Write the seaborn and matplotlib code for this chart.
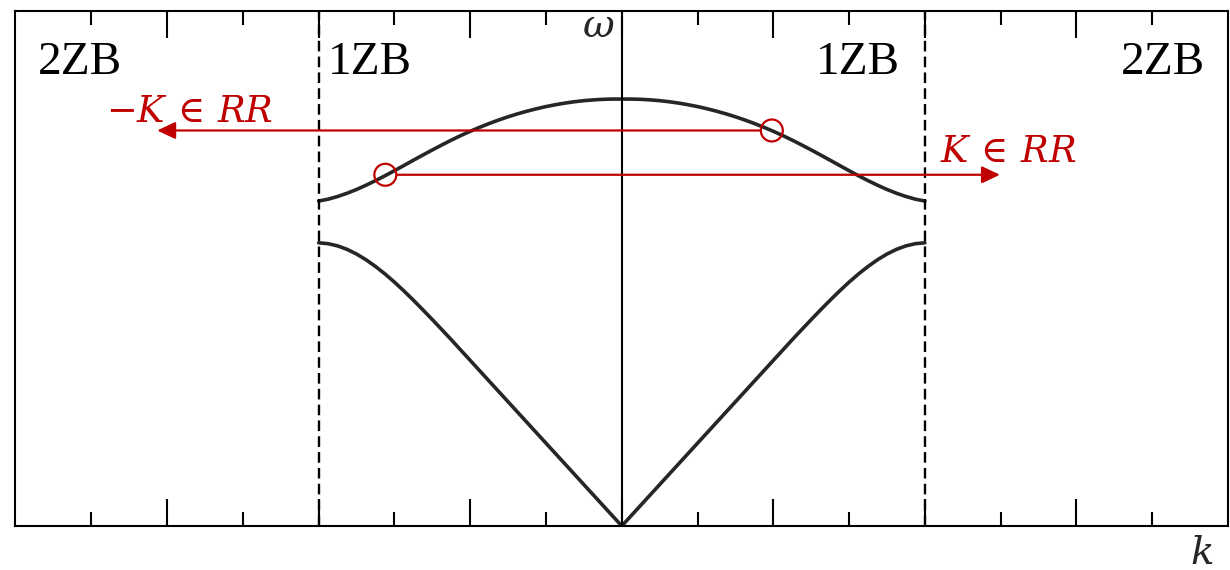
import numpy as np
import pandas as pd
import seaborn as sns
import matplotlib.pyplot as plt

# --- Dispersion branches (k in units of ZB/4, omega scaled 0..1) ---
# the picture is mirror symmetric about k = 0, so only k >= 0 is listed
k_half = [0.0, 0.125, 0.25, 0.375, 0.5, 0.625, 0.75, 0.875, 1.0, 1.125, 1.25, 1.375,
          1.5, 1.625, 1.75, 1.875, 2.0, 2.125, 2.25, 2.375, 2.5, 2.625, 2.75, 2.875,
          3.0, 3.125, 3.25, 3.375, 3.5, 3.625, 3.75, 3.875, 4.0]
acoustic_half = [0.0000, 0.0201, 0.0402, 0.0603, 0.0804, 0.1005, 0.1206, 0.1407, 0.1608,
                 0.1809, 0.2010, 0.2211, 0.2412, 0.2613, 0.2814, 0.3015, 0.3216, 0.3417,
                 0.3618, 0.3814, 0.4008, 0.4199, 0.4385, 0.4565, 0.4736, 0.4895, 0.5040,
                 0.5170, 0.5281, 0.5372, 0.5439, 0.5482, 0.5499]
optical_half = [0.8290, 0.8290, 0.8285, 0.8274, 0.8259, 0.8238, 0.8212, 0.8180, 0.8144,
                0.8102, 0.8055, 0.8003, 0.7946, 0.7883, 0.7815, 0.7742, 0.7664, 0.7581,
                0.7492, 0.7398, 0.7302, 0.7203, 0.7102, 0.7000, 0.6899, 0.6800, 0.6706,
                0.6617, 0.6534, 0.6461, 0.6398, 0.6346, 0.6310]

# zone boundaries and zone labels
zb_lines = [-4.0, 4.0]
zone_labels = ["2ZB", "1ZB", "1ZB", "2ZB"]
zone_label_k = [-7.71, -3.88, 3.67, 7.70]
zone_label_ha = ["left", "left", "right", "right"]

# marked states on the optical branch and where the arrows point
mark_k = [1.98, -3.12]
mark_w = [0.768, 0.682]
arrow_start_k = [1.83, -2.97]
arrow_end_k = [-6.13, 4.99]
arrow_labels = [r"$-K\,\in\,RR$", r"$K\,\in\,RR$"]
arrow_label_k = [-6.80, 4.20]
arrow_label_w = [0.784, 0.707]

red = "#C00000"
curve_col = "#262626"

sns.set_style("white")
plt.rcParams["mathtext.fontset"] = "dejavuserif"

fig = plt.figure(figsize=(12.3, 5.7), dpi=100)
ax = fig.add_axes([0.0126, 0.0772, 0.9858, 0.9035])

# mirror the half branches to the full first zone
k_full = np.concatenate([-np.array(k_half[::-1]), np.array(k_half[1:])])
ac_full = np.concatenate([acoustic_half[::-1], acoustic_half[1:]])
op_full = np.concatenate([optical_half[::-1], optical_half[1:]])
df = pd.concat([
    pd.DataFrame({"k": k_full, "omega": ac_full, "branch": "acoustic"}),
    pd.DataFrame({"k": k_full, "omega": op_full, "branch": "optical"}),
])
sns.lineplot(data=df, x="k", y="omega", units="branch", estimator=None, sort=False,
             color=curve_col, linewidth=2.6, ax=ax)

# centre axis and zone boundaries
ax.axvline(0, color="black", linewidth=1.5)
for xb in zb_lines:
    ax.axvline(xb, color="black", linewidth=1.7, linestyle=(0, (4.5, 2.2)))

# zone labels
for lab, xk, ha in zip(zone_labels, zone_label_k, zone_label_ha):
    ax.text(xk, 0.878, lab, ha=ha, va="baseline", fontsize=34,
            family="Liberation Serif", color="black")

# arrows and circles
for xs, xe, w in zip(arrow_start_k, arrow_end_k, mark_w):
    ax.annotate("", xy=(xe, w), xytext=(xs, w),
                arrowprops=dict(arrowstyle="-|>,head_length=0.55,head_width=0.26",
                                mutation_scale=20, color=red, lw=1.6,
                                shrinkA=0, shrinkB=0))
sns.scatterplot(x=mark_k, y=mark_w, marker="o", s=250, facecolor="none",
                edgecolor=red, linewidth=1.6, ax=ax, zorder=5)

for lab, xk, w in zip(arrow_labels, arrow_label_k, arrow_label_w):
    ax.text(xk, w, lab, ha="left", va="baseline", fontsize=26.5, color=red)

# axis symbols
ax.text(-0.09, 0.950, r"$\omega$", ha="right", va="baseline", fontsize=28)
ax.text(7.80, -0.074, r"$k$", ha="right", va="baseline", fontsize=28)

ax.set_xlim(-8, 8)
ax.set_ylim(0, 1)
ax.set_xticks([-6, -4, -2, 0, 2, 4, 6])
ax.set_xticks([-7, -5, -3, -1, 1, 3, 5, 7], minor=True)
ax.set_yticks([])
ax.tick_params(axis="x", which="major", direction="in", length=19.5, width=1.5,
               top=True, bottom=True, labelbottom=False, color="black")
ax.tick_params(axis="x", which="minor", direction="in", length=10, width=1.5,
               top=True, bottom=True, color="black")
ax.set_xlabel("")
ax.set_ylabel("")
for sp in ax.spines.values():
    sp.set_visible(True)
    sp.set_color("black")
    sp.set_linewidth(1.5)

fig.savefig("out.png", dpi=100)
